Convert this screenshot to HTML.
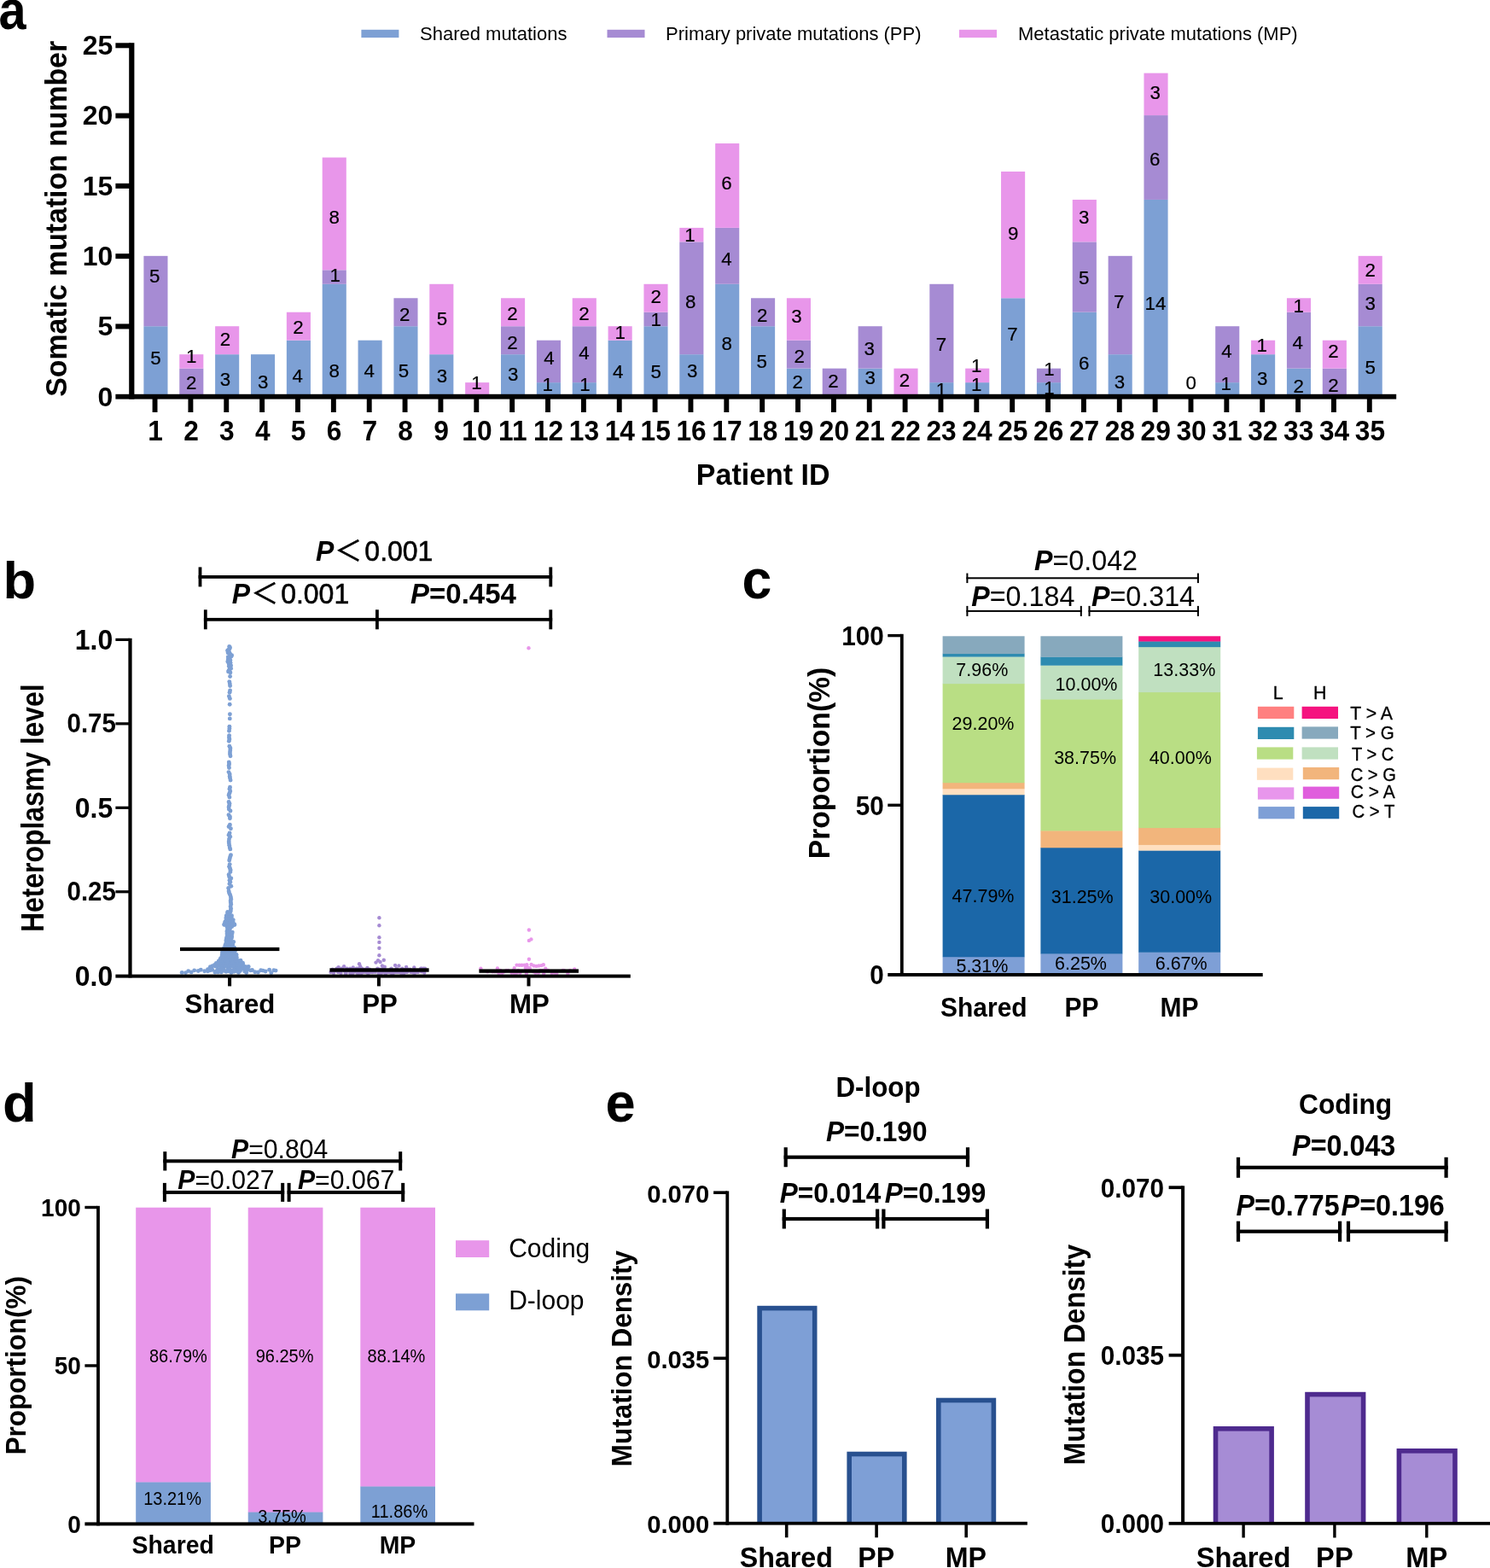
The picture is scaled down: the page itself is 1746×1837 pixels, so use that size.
<!DOCTYPE html>
<html lang="en"><head><meta charset="utf-8"><title>Figure</title>
<style>
html,body{margin:0;padding:0;background:#fff;}
body{width:1746px;height:1837px;overflow:hidden;}
svg{display:block;font-family:'Liberation Sans', sans-serif;fill:#000;}
svg rect{shape-rendering:auto;}
</style></head><body>
<svg width="1746" height="1837" viewBox="0 0 1746 1837">
<rect x="0" y="0" width="1746" height="1837" fill="#ffffff"/>
<text transform="translate(-1.40 33.70) scale(0.930 1.050)" font-size="62" font-weight="bold">a</text>
<rect x="423.40" y="34.80" width="44.00" height="9.30" fill="#7da0d4" />
<text x="492.00" y="47.40" font-size="22" >Shared mutations</text>
<rect x="711.50" y="34.80" width="44.00" height="9.30" fill="#a68bd3" />
<text x="780.00" y="47.40" font-size="22" >Primary private mutations (PP)</text>
<rect x="1124.00" y="34.80" width="44.00" height="9.30" fill="#e896ea" />
<text x="1193.00" y="47.40" font-size="22" >Metastatic private mutations (MP)</text>
<rect x="168.40" y="382.22" width="28.10" height="82.38" fill="#7da0d4" />
<rect x="168.40" y="299.84" width="28.10" height="82.38" fill="#a68bd3" />
<rect x="210.26" y="431.65" width="28.10" height="32.95" fill="#a68bd3" />
<rect x="210.26" y="415.17" width="28.10" height="16.48" fill="#e896ea" />
<rect x="252.12" y="415.17" width="28.10" height="49.43" fill="#7da0d4" />
<rect x="252.12" y="382.22" width="28.10" height="32.95" fill="#e896ea" />
<rect x="293.98" y="415.17" width="28.10" height="49.43" fill="#7da0d4" />
<rect x="335.84" y="398.70" width="28.10" height="65.90" fill="#7da0d4" />
<rect x="335.84" y="365.74" width="28.10" height="32.95" fill="#e896ea" />
<rect x="377.70" y="332.79" width="28.10" height="131.81" fill="#7da0d4" />
<rect x="377.70" y="316.32" width="28.10" height="16.48" fill="#a68bd3" />
<rect x="377.70" y="184.51" width="28.10" height="131.81" fill="#e896ea" />
<rect x="419.56" y="398.70" width="28.10" height="65.90" fill="#7da0d4" />
<rect x="461.42" y="382.22" width="28.10" height="82.38" fill="#7da0d4" />
<rect x="461.42" y="349.27" width="28.10" height="32.95" fill="#a68bd3" />
<rect x="503.28" y="415.17" width="28.10" height="49.43" fill="#7da0d4" />
<rect x="503.28" y="332.79" width="28.10" height="82.38" fill="#e896ea" />
<rect x="545.14" y="448.12" width="28.10" height="16.48" fill="#e896ea" />
<rect x="587.00" y="415.17" width="28.10" height="49.43" fill="#7da0d4" />
<rect x="587.00" y="382.22" width="28.10" height="32.95" fill="#a68bd3" />
<rect x="587.00" y="349.27" width="28.10" height="32.95" fill="#e896ea" />
<rect x="628.86" y="448.12" width="28.10" height="16.48" fill="#7da0d4" />
<rect x="628.86" y="398.70" width="28.10" height="49.43" fill="#a68bd3" />
<rect x="670.72" y="448.12" width="28.10" height="16.48" fill="#7da0d4" />
<rect x="670.72" y="382.22" width="28.10" height="65.90" fill="#a68bd3" />
<rect x="670.72" y="349.27" width="28.10" height="32.95" fill="#e896ea" />
<rect x="712.58" y="398.70" width="28.10" height="65.90" fill="#7da0d4" />
<rect x="712.58" y="382.22" width="28.10" height="16.48" fill="#e896ea" />
<rect x="754.44" y="382.22" width="28.10" height="82.38" fill="#7da0d4" />
<rect x="754.44" y="365.74" width="28.10" height="16.48" fill="#a68bd3" />
<rect x="754.44" y="332.79" width="28.10" height="32.95" fill="#e896ea" />
<rect x="796.30" y="415.17" width="28.10" height="49.43" fill="#7da0d4" />
<rect x="796.30" y="283.36" width="28.10" height="131.81" fill="#a68bd3" />
<rect x="796.30" y="266.89" width="28.10" height="16.48" fill="#e896ea" />
<rect x="838.16" y="332.79" width="28.10" height="131.81" fill="#7da0d4" />
<rect x="838.16" y="266.89" width="28.10" height="65.90" fill="#a68bd3" />
<rect x="838.16" y="168.03" width="28.10" height="98.86" fill="#e896ea" />
<rect x="880.02" y="382.22" width="28.10" height="82.38" fill="#7da0d4" />
<rect x="880.02" y="349.27" width="28.10" height="32.95" fill="#a68bd3" />
<rect x="921.88" y="431.65" width="28.10" height="32.95" fill="#7da0d4" />
<rect x="921.88" y="398.70" width="28.10" height="32.95" fill="#a68bd3" />
<rect x="921.88" y="349.27" width="28.10" height="49.43" fill="#e896ea" />
<rect x="963.74" y="431.65" width="28.10" height="32.95" fill="#a68bd3" />
<rect x="1005.60" y="431.65" width="28.10" height="32.95" fill="#7da0d4" />
<rect x="1005.60" y="382.22" width="28.10" height="49.43" fill="#a68bd3" />
<rect x="1047.46" y="431.65" width="28.10" height="32.95" fill="#e896ea" />
<rect x="1089.32" y="448.12" width="28.10" height="16.48" fill="#7da0d4" />
<rect x="1089.32" y="332.79" width="28.10" height="115.33" fill="#a68bd3" />
<rect x="1131.18" y="448.12" width="28.10" height="16.48" fill="#7da0d4" />
<rect x="1131.18" y="431.65" width="28.10" height="16.48" fill="#e896ea" />
<rect x="1173.04" y="349.27" width="28.10" height="115.33" fill="#7da0d4" />
<rect x="1173.04" y="200.98" width="28.10" height="148.28" fill="#e896ea" />
<rect x="1214.90" y="448.12" width="28.10" height="16.48" fill="#7da0d4" />
<rect x="1214.90" y="431.65" width="28.10" height="16.48" fill="#a68bd3" />
<rect x="1256.76" y="365.74" width="28.10" height="98.86" fill="#7da0d4" />
<rect x="1256.76" y="283.36" width="28.10" height="82.38" fill="#a68bd3" />
<rect x="1256.76" y="233.94" width="28.10" height="49.43" fill="#e896ea" />
<rect x="1298.62" y="415.17" width="28.10" height="49.43" fill="#7da0d4" />
<rect x="1298.62" y="299.84" width="28.10" height="115.33" fill="#a68bd3" />
<rect x="1340.48" y="233.94" width="28.10" height="230.66" fill="#7da0d4" />
<rect x="1340.48" y="135.08" width="28.10" height="98.86" fill="#a68bd3" />
<rect x="1340.48" y="85.65" width="28.10" height="49.43" fill="#e896ea" />
<rect x="1424.20" y="448.12" width="28.10" height="16.48" fill="#7da0d4" />
<rect x="1424.20" y="382.22" width="28.10" height="65.90" fill="#a68bd3" />
<rect x="1466.06" y="415.17" width="28.10" height="49.43" fill="#7da0d4" />
<rect x="1466.06" y="398.70" width="28.10" height="16.48" fill="#e896ea" />
<rect x="1507.92" y="431.65" width="28.10" height="32.95" fill="#7da0d4" />
<rect x="1507.92" y="365.74" width="28.10" height="65.90" fill="#a68bd3" />
<rect x="1507.92" y="349.27" width="28.10" height="16.48" fill="#e896ea" />
<rect x="1549.78" y="431.65" width="28.10" height="32.95" fill="#a68bd3" />
<rect x="1549.78" y="398.70" width="28.10" height="32.95" fill="#e896ea" />
<rect x="1591.64" y="382.22" width="28.10" height="82.38" fill="#7da0d4" />
<rect x="1591.64" y="332.79" width="28.10" height="49.43" fill="#a68bd3" />
<rect x="1591.64" y="299.84" width="28.10" height="32.95" fill="#e896ea" />
<g font-size="22.3" text-anchor="middle" stroke="#000" stroke-width="0.2">
<text x="181.1" y="330.9">5</text>
<text x="182.5" y="427.1">5</text>
<text x="224.1" y="425.4">1</text>
<text x="224.1" y="456.3">2</text>
<text x="263.9" y="405.4">2</text>
<text x="263.9" y="451.5">3</text>
<text x="308.2" y="454.6">3</text>
<text x="349.5" y="391.0">2</text>
<text x="348.8" y="448.4">4</text>
<text x="392.8" y="330.2">1</text>
<text x="391.8" y="441.9">8</text>
<text x="432.6" y="441.9">4</text>
<text x="474.2" y="375.9">2</text>
<text x="472.9" y="441.9">5</text>
<text x="517.9" y="381.4">5</text>
<text x="517.9" y="447.7">3</text>
<text x="558.4" y="456.3">1</text>
<text x="391.8" y="261.8">8</text>
<text x="600.5" y="374.5">2</text>
<text x="600.5" y="409.2">2</text>
<text x="601.2" y="446.0">3</text>
<text x="643.5" y="427.1">4</text>
<text x="641.8" y="458.0">1</text>
<text x="684.4" y="374.8">2</text>
<text x="684.4" y="421.2">4</text>
<text x="685.4" y="458.0">1</text>
<text x="726.7" y="397.2">1</text>
<text x="724.3" y="442.5">4</text>
<text x="768.6" y="354.9">2</text>
<text x="768.6" y="382.4">1</text>
<text x="768.6" y="442.5">5</text>
<text x="809.1" y="360.8">8</text>
<text x="811.2" y="441.9">3</text>
<text x="851.4" y="310.9">4</text>
<text x="851.8" y="409.9">8</text>
<text x="893.3" y="376.6">2</text>
<text x="892.6" y="430.5">5</text>
<text x="933.5" y="377.9">3</text>
<text x="936.6" y="424.7">2</text>
<text x="934.6" y="454.6">2</text>
<text x="976.5" y="453.9">2</text>
<text x="1018.8" y="415.7">3</text>
<text x="1019.8" y="450.4">3</text>
<text x="1060.0" y="452.8">2</text>
<text x="1103.0" y="410.6">7</text>
<text x="1103.0" y="464.2">1</text>
<text x="1144.2" y="435.7">1</text>
<text x="1144.2" y="458.0">1</text>
<text x="808.5" y="282.7">1</text>
<text x="851.4" y="222.3">6</text>
<text x="1186.5" y="398.6">7</text>
<text x="1229.5" y="440.1">1</text>
<text x="1229.5" y="462.1">1</text>
<text x="1270.1" y="333.3">5</text>
<text x="1270.1" y="432.9">6</text>
<text x="1311.3" y="361.1">7</text>
<text x="1312.0" y="455.3">3</text>
<text x="1353.9" y="362.5">14</text>
<text x="1395.8" y="455.6">0</text>
<text x="1437.4" y="419.2">4</text>
<text x="1436.7" y="457.3">1</text>
<text x="1478.6" y="411.6">1</text>
<text x="1479.3" y="451.1">3</text>
<text x="1521.6" y="365.9">1</text>
<text x="1520.6" y="409.2">4</text>
<text x="1521.6" y="459.7">2</text>
<text x="1562.5" y="418.5">2</text>
<text x="1562.5" y="458.7">2</text>
<text x="1605.8" y="324.0">2</text>
<text x="1605.8" y="362.8">3</text>
<text x="1605.8" y="438.1">5</text>
<text x="1187.2" y="280.7">9</text>
<text x="1270.1" y="261.8">3</text>
<text x="1353.2" y="194.1">6</text>
<text x="1353.6" y="116.1">3</text>
</g>
<rect x="151.20" y="50.20" width="6.20" height="417.40" fill="#000" />
<rect x="135.40" y="461.80" width="1500.80" height="5.80" fill="#000" />
<text x="132.30" y="475.60" font-size="32" font-weight="bold" text-anchor="end" >0</text>
<rect x="135.40" y="379.42" width="17.60" height="6.00" fill="#000" />
<text x="132.30" y="393.32" font-size="32" font-weight="bold" text-anchor="end" >5</text>
<rect x="135.40" y="297.14" width="17.60" height="6.00" fill="#000" />
<text x="132.30" y="311.04" font-size="32" font-weight="bold" text-anchor="end" >10</text>
<rect x="135.40" y="214.86" width="17.60" height="6.00" fill="#000" />
<text x="132.30" y="228.76" font-size="32" font-weight="bold" text-anchor="end" >15</text>
<rect x="135.40" y="132.58" width="17.60" height="6.00" fill="#000" />
<text x="132.30" y="146.48" font-size="32" font-weight="bold" text-anchor="end" >20</text>
<rect x="135.40" y="50.30" width="17.60" height="6.00" fill="#000" />
<text x="132.30" y="64.20" font-size="32" font-weight="bold" text-anchor="end" >25</text>
<rect x="178.60" y="466.00" width="5.90" height="17.00" fill="#000" />
<text transform="translate(182.15 516.30) scale(1 1.035)" font-size="31.7" font-weight="bold" text-anchor="middle" >1</text>
<rect x="220.46" y="466.00" width="5.90" height="17.00" fill="#000" />
<text transform="translate(224.01 516.30) scale(1 1.035)" font-size="31.7" font-weight="bold" text-anchor="middle" >2</text>
<rect x="262.32" y="466.00" width="5.90" height="17.00" fill="#000" />
<text transform="translate(265.87 516.30) scale(1 1.035)" font-size="31.7" font-weight="bold" text-anchor="middle" >3</text>
<rect x="304.18" y="466.00" width="5.90" height="17.00" fill="#000" />
<text transform="translate(307.73 516.30) scale(1 1.035)" font-size="31.7" font-weight="bold" text-anchor="middle" >4</text>
<rect x="346.04" y="466.00" width="5.90" height="17.00" fill="#000" />
<text transform="translate(349.59 516.30) scale(1 1.035)" font-size="31.7" font-weight="bold" text-anchor="middle" >5</text>
<rect x="387.90" y="466.00" width="5.90" height="17.00" fill="#000" />
<text transform="translate(391.45 516.30) scale(1 1.035)" font-size="31.7" font-weight="bold" text-anchor="middle" >6</text>
<rect x="429.76" y="466.00" width="5.90" height="17.00" fill="#000" />
<text transform="translate(433.31 516.30) scale(1 1.035)" font-size="31.7" font-weight="bold" text-anchor="middle" >7</text>
<rect x="471.62" y="466.00" width="5.90" height="17.00" fill="#000" />
<text transform="translate(475.17 516.30) scale(1 1.035)" font-size="31.7" font-weight="bold" text-anchor="middle" >8</text>
<rect x="513.48" y="466.00" width="5.90" height="17.00" fill="#000" />
<text transform="translate(517.03 516.30) scale(1 1.035)" font-size="31.7" font-weight="bold" text-anchor="middle" >9</text>
<rect x="555.34" y="466.00" width="5.90" height="17.00" fill="#000" />
<text transform="translate(558.89 516.30) scale(1 1.035)" font-size="31.7" font-weight="bold" text-anchor="middle" >10</text>
<rect x="597.20" y="466.00" width="5.90" height="17.00" fill="#000" />
<text transform="translate(600.75 516.30) scale(1 1.035)" font-size="31.7" font-weight="bold" text-anchor="middle" >11</text>
<rect x="639.06" y="466.00" width="5.90" height="17.00" fill="#000" />
<text transform="translate(642.61 516.30) scale(1 1.035)" font-size="31.7" font-weight="bold" text-anchor="middle" >12</text>
<rect x="680.92" y="466.00" width="5.90" height="17.00" fill="#000" />
<text transform="translate(684.47 516.30) scale(1 1.035)" font-size="31.7" font-weight="bold" text-anchor="middle" >13</text>
<rect x="722.78" y="466.00" width="5.90" height="17.00" fill="#000" />
<text transform="translate(726.33 516.30) scale(1 1.035)" font-size="31.7" font-weight="bold" text-anchor="middle" >14</text>
<rect x="764.64" y="466.00" width="5.90" height="17.00" fill="#000" />
<text transform="translate(768.19 516.30) scale(1 1.035)" font-size="31.7" font-weight="bold" text-anchor="middle" >15</text>
<rect x="806.50" y="466.00" width="5.90" height="17.00" fill="#000" />
<text transform="translate(810.05 516.30) scale(1 1.035)" font-size="31.7" font-weight="bold" text-anchor="middle" >16</text>
<rect x="848.36" y="466.00" width="5.90" height="17.00" fill="#000" />
<text transform="translate(851.91 516.30) scale(1 1.035)" font-size="31.7" font-weight="bold" text-anchor="middle" >17</text>
<rect x="890.22" y="466.00" width="5.90" height="17.00" fill="#000" />
<text transform="translate(893.77 516.30) scale(1 1.035)" font-size="31.7" font-weight="bold" text-anchor="middle" >18</text>
<rect x="932.08" y="466.00" width="5.90" height="17.00" fill="#000" />
<text transform="translate(935.63 516.30) scale(1 1.035)" font-size="31.7" font-weight="bold" text-anchor="middle" >19</text>
<rect x="973.94" y="466.00" width="5.90" height="17.00" fill="#000" />
<text transform="translate(977.49 516.30) scale(1 1.035)" font-size="31.7" font-weight="bold" text-anchor="middle" >20</text>
<rect x="1015.80" y="466.00" width="5.90" height="17.00" fill="#000" />
<text transform="translate(1019.35 516.30) scale(1 1.035)" font-size="31.7" font-weight="bold" text-anchor="middle" >21</text>
<rect x="1057.66" y="466.00" width="5.90" height="17.00" fill="#000" />
<text transform="translate(1061.21 516.30) scale(1 1.035)" font-size="31.7" font-weight="bold" text-anchor="middle" >22</text>
<rect x="1099.52" y="466.00" width="5.90" height="17.00" fill="#000" />
<text transform="translate(1103.07 516.30) scale(1 1.035)" font-size="31.7" font-weight="bold" text-anchor="middle" >23</text>
<rect x="1141.38" y="466.00" width="5.90" height="17.00" fill="#000" />
<text transform="translate(1144.93 516.30) scale(1 1.035)" font-size="31.7" font-weight="bold" text-anchor="middle" >24</text>
<rect x="1183.24" y="466.00" width="5.90" height="17.00" fill="#000" />
<text transform="translate(1186.79 516.30) scale(1 1.035)" font-size="31.7" font-weight="bold" text-anchor="middle" >25</text>
<rect x="1225.10" y="466.00" width="5.90" height="17.00" fill="#000" />
<text transform="translate(1228.65 516.30) scale(1 1.035)" font-size="31.7" font-weight="bold" text-anchor="middle" >26</text>
<rect x="1266.96" y="466.00" width="5.90" height="17.00" fill="#000" />
<text transform="translate(1270.51 516.30) scale(1 1.035)" font-size="31.7" font-weight="bold" text-anchor="middle" >27</text>
<rect x="1308.82" y="466.00" width="5.90" height="17.00" fill="#000" />
<text transform="translate(1312.37 516.30) scale(1 1.035)" font-size="31.7" font-weight="bold" text-anchor="middle" >28</text>
<rect x="1350.68" y="466.00" width="5.90" height="17.00" fill="#000" />
<text transform="translate(1354.23 516.30) scale(1 1.035)" font-size="31.7" font-weight="bold" text-anchor="middle" >29</text>
<rect x="1392.54" y="466.00" width="5.90" height="17.00" fill="#000" />
<text transform="translate(1396.09 516.30) scale(1 1.035)" font-size="31.7" font-weight="bold" text-anchor="middle" >30</text>
<rect x="1434.40" y="466.00" width="5.90" height="17.00" fill="#000" />
<text transform="translate(1437.95 516.30) scale(1 1.035)" font-size="31.7" font-weight="bold" text-anchor="middle" >31</text>
<rect x="1476.26" y="466.00" width="5.90" height="17.00" fill="#000" />
<text transform="translate(1479.81 516.30) scale(1 1.035)" font-size="31.7" font-weight="bold" text-anchor="middle" >32</text>
<rect x="1518.12" y="466.00" width="5.90" height="17.00" fill="#000" />
<text transform="translate(1521.67 516.30) scale(1 1.035)" font-size="31.7" font-weight="bold" text-anchor="middle" >33</text>
<rect x="1559.98" y="466.00" width="5.90" height="17.00" fill="#000" />
<text transform="translate(1563.53 516.30) scale(1 1.035)" font-size="31.7" font-weight="bold" text-anchor="middle" >34</text>
<rect x="1601.84" y="466.00" width="5.90" height="17.00" fill="#000" />
<text transform="translate(1605.39 516.30) scale(1 1.035)" font-size="31.7" font-weight="bold" text-anchor="middle" >35</text>
<text transform="translate(77.50 256.30) rotate(-90) scale(1 1.050)" font-size="33.8" font-weight="bold" text-anchor="middle">Somatic mutation number</text>
<text transform="translate(894.20 567.80) scale(1 1.030)" font-size="34" font-weight="bold" text-anchor="middle" >Patient ID</text>
<text transform="translate(3.40 700.60) scale(1.020 1.000)" font-size="62" font-weight="bold">b</text>
<g fill="#7da0d4">
<circle cx="268.7" cy="757.5" r="2.45"/>
<circle cx="269.4" cy="758.4" r="2.45"/>
<circle cx="269.2" cy="759.7" r="2.45"/>
<circle cx="268.2" cy="760.9" r="2.45"/>
<circle cx="266.7" cy="761.9" r="2.45"/>
<circle cx="266.9" cy="762.6" r="2.45"/>
<circle cx="268.7" cy="764.3" r="2.45"/>
<circle cx="267.1" cy="764.8" r="2.45"/>
<circle cx="269.8" cy="766.5" r="2.45"/>
<circle cx="269.5" cy="767.0" r="2.45"/>
<circle cx="271.6" cy="767.7" r="2.45"/>
<circle cx="271.0" cy="769.0" r="2.45"/>
<circle cx="267.3" cy="769.8" r="2.45"/>
<circle cx="268.1" cy="771.6" r="2.45"/>
<circle cx="267.4" cy="772.4" r="2.45"/>
<circle cx="269.8" cy="773.2" r="2.45"/>
<circle cx="269.3" cy="773.9" r="2.45"/>
<circle cx="266.8" cy="775.1" r="2.45"/>
<circle cx="270.0" cy="776.3" r="2.45"/>
<circle cx="268.1" cy="777.5" r="2.45"/>
<circle cx="268.9" cy="778.3" r="2.45"/>
<circle cx="270.6" cy="779.7" r="2.45"/>
<circle cx="268.3" cy="780.6" r="2.45"/>
<circle cx="269.2" cy="782.0" r="2.45"/>
<circle cx="269.8" cy="782.4" r="2.45"/>
<circle cx="270.6" cy="783.3" r="2.45"/>
<circle cx="268.8" cy="785.0" r="2.45"/>
<circle cx="268.0" cy="785.7" r="2.45"/>
<circle cx="267.6" cy="786.9" r="2.45"/>
<circle cx="269.9" cy="787.9" r="2.45"/>
<circle cx="269.6" cy="792.5" r="2.45"/>
<circle cx="268.8" cy="798.6" r="2.45"/>
<circle cx="269.3" cy="800.9" r="2.45"/>
<circle cx="269.6" cy="803.5" r="2.45"/>
<circle cx="269.6" cy="808.9" r="2.45"/>
<circle cx="269.1" cy="811.2" r="2.45"/>
<circle cx="268.4" cy="815.8" r="2.45"/>
<circle cx="269.4" cy="818.4" r="2.45"/>
<circle cx="269.2" cy="825.3" r="2.45"/>
<circle cx="269.4" cy="836.8" r="2.45"/>
<circle cx="269.3" cy="841.9" r="2.45"/>
<circle cx="268.9" cy="851.3" r="2.45"/>
<circle cx="268.9" cy="853.6" r="2.45"/>
<circle cx="268.5" cy="856.2" r="2.45"/>
<circle cx="268.6" cy="861.6" r="2.45"/>
<circle cx="268.4" cy="863.9" r="2.45"/>
<circle cx="268.9" cy="865.9" r="2.45"/>
<circle cx="268.3" cy="868.2" r="2.45"/>
<circle cx="268.9" cy="874.2" r="2.45"/>
<circle cx="269.9" cy="876.5" r="2.45"/>
<circle cx="269.8" cy="878.8" r="2.45"/>
<circle cx="269.5" cy="881.1" r="2.45"/>
<circle cx="269.5" cy="883.4" r="2.45"/>
<circle cx="270.0" cy="885.7" r="2.45"/>
<circle cx="268.3" cy="893.0" r="2.45"/>
<circle cx="268.6" cy="895.0" r="2.45"/>
<circle cx="268.1" cy="897.0" r="2.45"/>
<circle cx="268.5" cy="899.6" r="2.45"/>
<circle cx="268.0" cy="904.6" r="2.45"/>
<circle cx="269.2" cy="906.9" r="2.45"/>
<circle cx="269.2" cy="909.5" r="2.45"/>
<circle cx="269.5" cy="911.5" r="2.45"/>
<circle cx="270.1" cy="914.1" r="2.45"/>
<circle cx="269.5" cy="922.3" r="2.45"/>
<circle cx="269.0" cy="924.3" r="2.45"/>
<circle cx="269.8" cy="926.9" r="2.45"/>
<circle cx="268.9" cy="929.2" r="2.45"/>
<circle cx="268.1" cy="931.5" r="2.45"/>
<circle cx="268.9" cy="934.1" r="2.45"/>
<circle cx="268.1" cy="939.5" r="2.45"/>
<circle cx="269.0" cy="941.5" r="2.45"/>
<circle cx="268.7" cy="943.5" r="2.45"/>
<circle cx="268.1" cy="945.5" r="2.45"/>
<circle cx="268.3" cy="948.1" r="2.45"/>
<circle cx="270.0" cy="950.0" r="2.45"/>
<circle cx="268.0" cy="954.8" r="2.45"/>
<circle cx="269.4" cy="956.8" r="2.45"/>
<circle cx="269.4" cy="958.8" r="2.45"/>
<circle cx="269.4" cy="966.2" r="2.45"/>
<circle cx="268.1" cy="968.5" r="2.45"/>
<circle cx="270.4" cy="970.8" r="2.45"/>
<circle cx="269.1" cy="976.0" r="2.45"/>
<circle cx="268.1" cy="978.3" r="2.45"/>
<circle cx="269.7" cy="980.3" r="2.45"/>
<circle cx="268.5" cy="982.9" r="2.45"/>
<circle cx="268.2" cy="985.7" r="2.45"/>
<circle cx="268.3" cy="987.7" r="2.45"/>
<circle cx="268.7" cy="990.3" r="2.45"/>
<circle cx="269.2" cy="992.9" r="2.45"/>
<circle cx="269.8" cy="994.9" r="2.45"/>
<circle cx="270.5" cy="1001.7" r="2.45"/>
<circle cx="269.7" cy="1003.7" r="2.45"/>
<circle cx="269.2" cy="1006.0" r="2.45"/>
<circle cx="268.7" cy="1008.0" r="2.45"/>
<circle cx="269.2" cy="1012.6" r="2.45"/>
<circle cx="268.6" cy="1015.2" r="2.45"/>
<circle cx="269.5" cy="1017.2" r="2.45"/>
<circle cx="270.1" cy="1019.2" r="2.45"/>
<circle cx="269.9" cy="1021.5" r="2.45"/>
<circle cx="268.1" cy="1024.7" r="2.45"/>
<circle cx="268.6" cy="1027.0" r="2.45"/>
<circle cx="270.8" cy="1029.0" r="2.45"/>
<circle cx="269.0" cy="1031.3" r="2.45"/>
<circle cx="269.8" cy="1033.3" r="2.45"/>
<circle cx="268.9" cy="1035.6" r="2.45"/>
<circle cx="270.8" cy="1038.2" r="2.45"/>
<circle cx="267.7" cy="1040.5" r="2.45"/>
<circle cx="268.1" cy="1044.0" r="2.45"/>
<circle cx="268.5" cy="1046.0" r="2.45"/>
<circle cx="269.6" cy="1048.3" r="2.45"/>
<circle cx="270.4" cy="1050.9" r="2.45"/>
<circle cx="270.7" cy="1053.2" r="2.45"/>
<circle cx="270.2" cy="1055.5" r="2.45"/>
<circle cx="270.4" cy="1057.5" r="2.45"/>
<circle cx="270.7" cy="1059.5" r="2.45"/>
<circle cx="270.1" cy="1062.1" r="2.45"/>
<circle cx="270.6" cy="1064.4" r="2.45"/>
<circle cx="270.2" cy="1066.7" r="2.45"/>
<circle cx="266.7" cy="1068.4" r="2.45"/>
<circle cx="270.1" cy="1068.0" r="2.45"/>
<circle cx="266.7" cy="1069.9" r="2.45"/>
<circle cx="268.9" cy="1070.8" r="2.45"/>
<circle cx="265.3" cy="1072.7" r="2.45"/>
<circle cx="268.6" cy="1072.8" r="2.45"/>
<circle cx="271.5" cy="1072.7" r="2.45"/>
<circle cx="265.1" cy="1075.3" r="2.45"/>
<circle cx="267.6" cy="1074.9" r="2.45"/>
<circle cx="270.2" cy="1075.2" r="2.45"/>
<circle cx="265.3" cy="1074.6" r="2.45"/>
<circle cx="268.1" cy="1074.6" r="2.45"/>
<circle cx="271.2" cy="1074.7" r="2.45"/>
<circle cx="265.1" cy="1076.8" r="2.45"/>
<circle cx="267.2" cy="1077.3" r="2.45"/>
<circle cx="270.6" cy="1077.1" r="2.45"/>
<circle cx="273.2" cy="1077.6" r="2.45"/>
<circle cx="263.9" cy="1079.8" r="2.45"/>
<circle cx="267.5" cy="1079.8" r="2.45"/>
<circle cx="270.2" cy="1079.6" r="2.45"/>
<circle cx="273.1" cy="1080.0" r="2.45"/>
<circle cx="263.7" cy="1080.7" r="2.45"/>
<circle cx="266.9" cy="1081.4" r="2.45"/>
<circle cx="270.0" cy="1081.1" r="2.45"/>
<circle cx="272.8" cy="1080.6" r="2.45"/>
<circle cx="262.8" cy="1083.4" r="2.45"/>
<circle cx="265.6" cy="1082.9" r="2.45"/>
<circle cx="269.0" cy="1083.3" r="2.45"/>
<circle cx="271.6" cy="1083.6" r="2.45"/>
<circle cx="274.8" cy="1082.9" r="2.45"/>
<circle cx="262.8" cy="1083.0" r="2.45"/>
<circle cx="265.5" cy="1083.5" r="2.45"/>
<circle cx="268.2" cy="1083.9" r="2.45"/>
<circle cx="271.1" cy="1083.3" r="2.45"/>
<circle cx="274.8" cy="1083.6" r="2.45"/>
<circle cx="265.9" cy="1085.6" r="2.45"/>
<circle cx="269.0" cy="1086.1" r="2.45"/>
<circle cx="271.8" cy="1085.5" r="2.45"/>
<circle cx="266.5" cy="1086.4" r="2.45"/>
<circle cx="269.7" cy="1086.4" r="2.45"/>
<circle cx="266.8" cy="1088.0" r="2.45"/>
<circle cx="269.2" cy="1088.2" r="2.45"/>
<circle cx="266.2" cy="1090.4" r="2.45"/>
<circle cx="269.3" cy="1090.5" r="2.45"/>
<circle cx="266.0" cy="1091.8" r="2.45"/>
<circle cx="268.7" cy="1092.3" r="2.45"/>
<circle cx="272.3" cy="1092.1" r="2.45"/>
<circle cx="266.0" cy="1094.1" r="2.45"/>
<circle cx="268.5" cy="1094.3" r="2.45"/>
<circle cx="271.9" cy="1093.9" r="2.45"/>
<circle cx="266.3" cy="1096.3" r="2.45"/>
<circle cx="268.9" cy="1096.3" r="2.45"/>
<circle cx="271.7" cy="1097.1" r="2.45"/>
<circle cx="265.6" cy="1098.8" r="2.45"/>
<circle cx="268.4" cy="1098.5" r="2.45"/>
<circle cx="271.2" cy="1098.7" r="2.45"/>
<circle cx="265.7" cy="1099.2" r="2.45"/>
<circle cx="268.4" cy="1099.0" r="2.45"/>
<circle cx="271.1" cy="1099.5" r="2.45"/>
<circle cx="264.9" cy="1101.7" r="2.45"/>
<circle cx="267.8" cy="1101.7" r="2.45"/>
<circle cx="270.5" cy="1101.1" r="2.45"/>
<circle cx="265.3" cy="1103.3" r="2.45"/>
<circle cx="267.9" cy="1103.9" r="2.45"/>
<circle cx="270.8" cy="1103.8" r="2.45"/>
<circle cx="273.7" cy="1103.5" r="2.45"/>
<circle cx="264.5" cy="1105.9" r="2.45"/>
<circle cx="267.3" cy="1105.7" r="2.45"/>
<circle cx="269.9" cy="1106.2" r="2.45"/>
<circle cx="272.6" cy="1106.3" r="2.45"/>
<circle cx="263.9" cy="1107.5" r="2.45"/>
<circle cx="266.5" cy="1107.8" r="2.45"/>
<circle cx="269.8" cy="1107.7" r="2.45"/>
<circle cx="272.3" cy="1107.6" r="2.45"/>
<circle cx="262.5" cy="1110.8" r="2.45"/>
<circle cx="265.7" cy="1110.7" r="2.45"/>
<circle cx="268.7" cy="1109.8" r="2.45"/>
<circle cx="271.6" cy="1110.7" r="2.45"/>
<circle cx="274.6" cy="1110.1" r="2.45"/>
<circle cx="261.5" cy="1113.0" r="2.45"/>
<circle cx="264.7" cy="1112.6" r="2.45"/>
<circle cx="267.1" cy="1112.5" r="2.45"/>
<circle cx="270.4" cy="1112.4" r="2.45"/>
<circle cx="273.3" cy="1113.1" r="2.45"/>
<circle cx="275.3" cy="1112.1" r="2.45"/>
<circle cx="261.1" cy="1114.5" r="2.45"/>
<circle cx="263.9" cy="1113.7" r="2.45"/>
<circle cx="266.6" cy="1114.2" r="2.45"/>
<circle cx="269.7" cy="1114.2" r="2.45"/>
<circle cx="272.3" cy="1114.4" r="2.45"/>
<circle cx="275.6" cy="1113.8" r="2.45"/>
<circle cx="260.5" cy="1116.0" r="2.45"/>
<circle cx="263.3" cy="1116.7" r="2.45"/>
<circle cx="266.6" cy="1115.9" r="2.45"/>
<circle cx="269.7" cy="1116.8" r="2.45"/>
<circle cx="272.3" cy="1115.8" r="2.45"/>
<circle cx="274.9" cy="1116.7" r="2.45"/>
<circle cx="260.4" cy="1118.2" r="2.45"/>
<circle cx="263.4" cy="1118.5" r="2.45"/>
<circle cx="266.0" cy="1119.1" r="2.45"/>
<circle cx="268.9" cy="1118.8" r="2.45"/>
<circle cx="271.2" cy="1118.3" r="2.45"/>
<circle cx="274.2" cy="1118.1" r="2.45"/>
<circle cx="277.1" cy="1118.4" r="2.45"/>
<circle cx="260.6" cy="1120.7" r="2.45"/>
<circle cx="262.4" cy="1121.3" r="2.45"/>
<circle cx="265.4" cy="1120.6" r="2.45"/>
<circle cx="268.3" cy="1120.5" r="2.45"/>
<circle cx="271.1" cy="1121.1" r="2.45"/>
<circle cx="273.9" cy="1121.2" r="2.45"/>
<circle cx="276.5" cy="1121.2" r="2.45"/>
<circle cx="259.7" cy="1121.1" r="2.45"/>
<circle cx="262.8" cy="1120.8" r="2.45"/>
<circle cx="265.8" cy="1120.6" r="2.45"/>
<circle cx="269.0" cy="1121.4" r="2.45"/>
<circle cx="271.0" cy="1121.4" r="2.45"/>
<circle cx="274.4" cy="1121.1" r="2.45"/>
<circle cx="277.2" cy="1121.2" r="2.45"/>
<circle cx="258.3" cy="1123.1" r="2.45"/>
<circle cx="261.2" cy="1122.9" r="2.45"/>
<circle cx="264.2" cy="1123.5" r="2.45"/>
<circle cx="266.7" cy="1123.2" r="2.45"/>
<circle cx="269.7" cy="1123.3" r="2.45"/>
<circle cx="272.7" cy="1123.6" r="2.45"/>
<circle cx="275.1" cy="1123.6" r="2.45"/>
<circle cx="277.4" cy="1123.5" r="2.45"/>
<circle cx="256.7" cy="1125.8" r="2.45"/>
<circle cx="259.7" cy="1125.7" r="2.45"/>
<circle cx="261.6" cy="1125.1" r="2.45"/>
<circle cx="265.0" cy="1126.1" r="2.45"/>
<circle cx="267.5" cy="1125.6" r="2.45"/>
<circle cx="270.0" cy="1125.1" r="2.45"/>
<circle cx="273.3" cy="1125.3" r="2.45"/>
<circle cx="275.8" cy="1125.6" r="2.45"/>
<circle cx="278.4" cy="1126.0" r="2.45"/>
<circle cx="282.0" cy="1125.2" r="2.45"/>
<circle cx="256.1" cy="1126.2" r="2.45"/>
<circle cx="258.9" cy="1126.3" r="2.45"/>
<circle cx="262.0" cy="1125.7" r="2.45"/>
<circle cx="264.8" cy="1125.7" r="2.45"/>
<circle cx="267.4" cy="1126.0" r="2.45"/>
<circle cx="270.4" cy="1125.6" r="2.45"/>
<circle cx="273.3" cy="1125.8" r="2.45"/>
<circle cx="275.2" cy="1126.1" r="2.45"/>
<circle cx="278.2" cy="1126.1" r="2.45"/>
<circle cx="281.1" cy="1126.2" r="2.45"/>
<circle cx="253.4" cy="1128.4" r="2.45"/>
<circle cx="255.7" cy="1128.3" r="2.45"/>
<circle cx="258.8" cy="1128.8" r="2.45"/>
<circle cx="261.2" cy="1128.0" r="2.45"/>
<circle cx="264.4" cy="1128.5" r="2.45"/>
<circle cx="267.0" cy="1128.3" r="2.45"/>
<circle cx="270.3" cy="1128.8" r="2.45"/>
<circle cx="272.9" cy="1128.1" r="2.45"/>
<circle cx="275.2" cy="1128.3" r="2.45"/>
<circle cx="278.2" cy="1127.9" r="2.45"/>
<circle cx="281.2" cy="1128.8" r="2.45"/>
<circle cx="284.5" cy="1128.2" r="2.45"/>
<circle cx="251.5" cy="1130.4" r="2.45"/>
<circle cx="253.5" cy="1129.6" r="2.45"/>
<circle cx="256.9" cy="1129.8" r="2.45"/>
<circle cx="259.4" cy="1130.1" r="2.45"/>
<circle cx="262.4" cy="1129.8" r="2.45"/>
<circle cx="264.7" cy="1129.9" r="2.45"/>
<circle cx="267.9" cy="1130.4" r="2.45"/>
<circle cx="270.6" cy="1129.7" r="2.45"/>
<circle cx="273.9" cy="1130.2" r="2.45"/>
<circle cx="276.2" cy="1130.2" r="2.45"/>
<circle cx="279.0" cy="1129.9" r="2.45"/>
<circle cx="281.5" cy="1129.8" r="2.45"/>
<circle cx="284.5" cy="1129.8" r="2.45"/>
<circle cx="246.4" cy="1132.7" r="2.45"/>
<circle cx="249.0" cy="1131.8" r="2.45"/>
<circle cx="252.3" cy="1132.1" r="2.45"/>
<circle cx="254.5" cy="1132.2" r="2.45"/>
<circle cx="258.1" cy="1131.9" r="2.45"/>
<circle cx="260.9" cy="1132.6" r="2.45"/>
<circle cx="263.7" cy="1132.1" r="2.45"/>
<circle cx="265.7" cy="1132.5" r="2.45"/>
<circle cx="269.0" cy="1131.9" r="2.45"/>
<circle cx="272.2" cy="1132.2" r="2.45"/>
<circle cx="274.3" cy="1132.6" r="2.45"/>
<circle cx="277.6" cy="1132.2" r="2.45"/>
<circle cx="279.6" cy="1132.6" r="2.45"/>
<circle cx="282.8" cy="1132.7" r="2.45"/>
<circle cx="285.8" cy="1132.0" r="2.45"/>
<circle cx="288.1" cy="1132.7" r="2.45"/>
<circle cx="291.2" cy="1132.4" r="2.45"/>
<circle cx="213.2" cy="1139.4" r="2.45"/>
<circle cx="217.5" cy="1139.6" r="2.45"/>
<circle cx="220.7" cy="1137.6" r="2.45"/>
<circle cx="224.2" cy="1138.9" r="2.45"/>
<circle cx="227.7" cy="1136.9" r="2.45"/>
<circle cx="232.3" cy="1137.5" r="2.45"/>
<circle cx="235.3" cy="1136.2" r="2.45"/>
<circle cx="239.7" cy="1137.7" r="2.45"/>
<circle cx="243.5" cy="1137.7" r="2.45"/>
<circle cx="246.0" cy="1136.9" r="2.45"/>
<circle cx="248.8" cy="1136.3" r="2.45"/>
<circle cx="251.9" cy="1139.1" r="2.45"/>
<circle cx="255.4" cy="1138.9" r="2.45"/>
<circle cx="259.3" cy="1138.9" r="2.45"/>
<circle cx="262.3" cy="1137.3" r="2.45"/>
<circle cx="265.0" cy="1138.2" r="2.45"/>
<circle cx="268.0" cy="1137.9" r="2.45"/>
<circle cx="271.0" cy="1139.5" r="2.45"/>
<circle cx="275.7" cy="1137.7" r="2.45"/>
<circle cx="279.5" cy="1139.4" r="2.45"/>
<circle cx="281.4" cy="1137.6" r="2.45"/>
<circle cx="286.7" cy="1137.9" r="2.45"/>
<circle cx="288.7" cy="1139.6" r="2.45"/>
<circle cx="293.7" cy="1136.9" r="2.45"/>
<circle cx="295.5" cy="1136.5" r="2.45"/>
<circle cx="298.8" cy="1138.8" r="2.45"/>
<circle cx="302.4" cy="1139.0" r="2.45"/>
<circle cx="305.7" cy="1136.8" r="2.45"/>
<circle cx="308.1" cy="1137.1" r="2.45"/>
<circle cx="311.1" cy="1138.0" r="2.45"/>
<circle cx="315.6" cy="1136.3" r="2.45"/>
<circle cx="317.8" cy="1139.7" r="2.45"/>
<circle cx="320.9" cy="1136.8" r="2.45"/>
<circle cx="323.1" cy="1137.1" r="2.45"/>
<circle cx="257.6" cy="1135.8" r="2.45"/>
<circle cx="286.7" cy="1135.5" r="2.45"/>
<circle cx="270.5" cy="1136.7" r="2.45"/>
<circle cx="244.6" cy="1136.1" r="2.45"/>
<circle cx="276.9" cy="1134.7" r="2.45"/>
<circle cx="253.2" cy="1138.0" r="2.45"/>
<circle cx="276.8" cy="1134.8" r="2.45"/>
<circle cx="254.9" cy="1136.2" r="2.45"/>
<circle cx="262.4" cy="1136.5" r="2.45"/>
<circle cx="279.3" cy="1137.4" r="2.45"/>
<circle cx="261.9" cy="1136.1" r="2.45"/>
<circle cx="243.5" cy="1135.7" r="2.45"/>
<circle cx="287.0" cy="1134.8" r="2.45"/>
<circle cx="268.9" cy="1135.3" r="2.45"/>
<circle cx="282.9" cy="1135.3" r="2.45"/>
<circle cx="267.3" cy="1135.6" r="2.45"/>
<circle cx="289.3" cy="1134.9" r="2.45"/>
<circle cx="275.5" cy="1136.9" r="2.45"/>
<circle cx="289.7" cy="1136.4" r="2.45"/>
<circle cx="290.4" cy="1134.7" r="2.45"/>
<circle cx="274.0" cy="1138.2" r="2.45"/>
<circle cx="245.9" cy="1134.6" r="2.45"/>
<circle cx="274.1" cy="1136.2" r="2.45"/>
<circle cx="280.0" cy="1135.2" r="2.45"/>
<circle cx="266.5" cy="1137.3" r="2.45"/>
<circle cx="259.4" cy="1135.0" r="2.45"/>
</g>
<g fill="#a68bd3">
<circle cx="444.4" cy="1075.2" r="2.2"/>
<circle cx="444.4" cy="1084.2" r="2.2"/>
<circle cx="444.4" cy="1098.2" r="2.2"/>
<circle cx="444.4" cy="1103.9" r="2.2"/>
<circle cx="444.4" cy="1110.7" r="2.2"/>
<circle cx="444.4" cy="1119.3" r="2.2"/>
<circle cx="443.0" cy="1125.3" r="2.2"/>
<circle cx="440.5" cy="1127.6" r="2.2"/>
<circle cx="449.8" cy="1124.7" r="2.2"/>
<circle cx="445.6" cy="1127.0" r="2.2"/>
<circle cx="421.0" cy="1129.2" r="2.2"/>
<circle cx="463.1" cy="1130.9" r="2.2"/>
<circle cx="467.4" cy="1131.5" r="2.2"/>
<circle cx="403.1" cy="1132.3" r="2.2"/>
<circle cx="396.7" cy="1133.1" r="2.2"/>
<circle cx="413.8" cy="1133.5" r="2.2"/>
<circle cx="422.2" cy="1132.3" r="2.2"/>
<circle cx="430.4" cy="1133.9" r="2.2"/>
<circle cx="476.1" cy="1132.9" r="2.2"/>
<circle cx="485.3" cy="1133.5" r="2.2"/>
<circle cx="447.9" cy="1131.5" r="2.2"/>
<circle cx="450.8" cy="1132.7" r="2.2"/>
<circle cx="458.6" cy="1134.6" r="2.2"/>
<circle cx="496.6" cy="1135.0" r="2.2"/>
<circle cx="387.6" cy="1138.9" r="2.2"/>
<circle cx="389.7" cy="1135.8" r="2.2"/>
<circle cx="391.0" cy="1140.1" r="2.2"/>
<circle cx="392.3" cy="1137.4" r="2.2"/>
<circle cx="394.6" cy="1134.6" r="2.2"/>
<circle cx="396.2" cy="1138.9" r="2.2"/>
<circle cx="398.2" cy="1135.8" r="2.2"/>
<circle cx="400.2" cy="1134.6" r="2.2"/>
<circle cx="401.2" cy="1135.8" r="2.2"/>
<circle cx="403.6" cy="1137.4" r="2.2"/>
<circle cx="405.5" cy="1140.1" r="2.2"/>
<circle cx="406.6" cy="1134.6" r="2.2"/>
<circle cx="408.5" cy="1137.4" r="2.2"/>
<circle cx="410.4" cy="1134.6" r="2.2"/>
<circle cx="411.8" cy="1135.8" r="2.2"/>
<circle cx="413.3" cy="1140.1" r="2.2"/>
<circle cx="415.5" cy="1137.4" r="2.2"/>
<circle cx="417.9" cy="1134.6" r="2.2"/>
<circle cx="419.6" cy="1134.6" r="2.2"/>
<circle cx="421.4" cy="1138.9" r="2.2"/>
<circle cx="422.7" cy="1135.8" r="2.2"/>
<circle cx="424.1" cy="1134.6" r="2.2"/>
<circle cx="425.5" cy="1138.9" r="2.2"/>
<circle cx="427.4" cy="1135.8" r="2.2"/>
<circle cx="429.0" cy="1138.9" r="2.2"/>
<circle cx="431.0" cy="1140.1" r="2.2"/>
<circle cx="433.1" cy="1135.8" r="2.2"/>
<circle cx="434.7" cy="1138.9" r="2.2"/>
<circle cx="436.3" cy="1137.4" r="2.2"/>
<circle cx="442.4" cy="1134.6" r="2.2"/>
<circle cx="443.5" cy="1140.1" r="2.2"/>
<circle cx="444.9" cy="1135.8" r="2.2"/>
<circle cx="446.8" cy="1140.1" r="2.2"/>
<circle cx="448.6" cy="1134.6" r="2.2"/>
<circle cx="450.3" cy="1135.8" r="2.2"/>
<circle cx="452.2" cy="1140.1" r="2.2"/>
<circle cx="454.7" cy="1138.9" r="2.2"/>
<circle cx="457.5" cy="1135.8" r="2.2"/>
<circle cx="459.1" cy="1140.1" r="2.2"/>
<circle cx="460.8" cy="1140.1" r="2.2"/>
<circle cx="463.4" cy="1138.9" r="2.2"/>
<circle cx="464.6" cy="1134.6" r="2.2"/>
<circle cx="466.4" cy="1137.4" r="2.2"/>
<circle cx="468.4" cy="1137.4" r="2.2"/>
<circle cx="470.4" cy="1138.9" r="2.2"/>
<circle cx="471.3" cy="1134.6" r="2.2"/>
<circle cx="473.4" cy="1140.1" r="2.2"/>
<circle cx="474.9" cy="1135.8" r="2.2"/>
<circle cx="476.4" cy="1138.9" r="2.2"/>
<circle cx="478.2" cy="1135.8" r="2.2"/>
<circle cx="480.5" cy="1135.8" r="2.2"/>
<circle cx="481.7" cy="1138.9" r="2.2"/>
<circle cx="485.9" cy="1140.1" r="2.2"/>
<circle cx="489.7" cy="1138.9" r="2.2"/>
<circle cx="493.2" cy="1134.6" r="2.2"/>
<circle cx="493.9" cy="1134.6" r="2.2"/>
<circle cx="496.0" cy="1134.6" r="2.2"/>
<circle cx="498.0" cy="1134.6" r="2.2"/>
<circle cx="399.5" cy="1140.0" r="2.2"/>
<circle cx="405.0" cy="1140.3" r="2.2"/>
<circle cx="410.6" cy="1140.2" r="2.2"/>
<circle cx="413.0" cy="1139.2" r="2.2"/>
<circle cx="415.7" cy="1138.5" r="2.2"/>
<circle cx="419.1" cy="1140.2" r="2.2"/>
<circle cx="420.8" cy="1139.9" r="2.2"/>
<circle cx="423.7" cy="1140.1" r="2.2"/>
<circle cx="426.9" cy="1138.4" r="2.2"/>
<circle cx="429.2" cy="1138.8" r="2.2"/>
<circle cx="431.9" cy="1139.7" r="2.2"/>
<circle cx="436.6" cy="1139.0" r="2.2"/>
<circle cx="439.6" cy="1138.7" r="2.2"/>
<circle cx="445.5" cy="1140.3" r="2.2"/>
<circle cx="448.5" cy="1138.8" r="2.2"/>
<circle cx="451.5" cy="1140.3" r="2.2"/>
<circle cx="456.6" cy="1139.0" r="2.2"/>
<circle cx="459.2" cy="1140.1" r="2.2"/>
<circle cx="465.3" cy="1138.9" r="2.2"/>
<circle cx="467.3" cy="1138.9" r="2.2"/>
<circle cx="470.0" cy="1139.7" r="2.2"/>
<circle cx="472.5" cy="1140.1" r="2.2"/>
<circle cx="477.6" cy="1138.4" r="2.2"/>
<circle cx="484.1" cy="1139.6" r="2.2"/>
<circle cx="486.9" cy="1138.4" r="2.2"/>
<circle cx="489.1" cy="1138.4" r="2.2"/>
<circle cx="494.1" cy="1138.4" r="2.2"/>
<circle cx="497.3" cy="1139.7" r="2.2"/>
</g>
<g fill="#e896ea">
<circle cx="619.9" cy="1089.5" r="2.2"/>
<circle cx="619.9" cy="1101.9" r="2.2"/>
<circle cx="622.4" cy="1100.4" r="2.2"/>
<circle cx="619.9" cy="1123.7" r="2.2"/>
<circle cx="605.6" cy="1130.6" r="2.2"/>
<circle cx="608.6" cy="1130.7" r="2.2"/>
<circle cx="611.5" cy="1130.7" r="2.2"/>
<circle cx="614.4" cy="1130.6" r="2.2"/>
<circle cx="617.3" cy="1130.2" r="2.2"/>
<circle cx="622.6" cy="1130.0" r="2.2"/>
<circle cx="625.5" cy="1131.5" r="2.2"/>
<circle cx="628.4" cy="1131.9" r="2.2"/>
<circle cx="631.3" cy="1131.5" r="2.2"/>
<circle cx="634.3" cy="1131.1" r="2.2"/>
<circle cx="636.8" cy="1130.2" r="2.2"/>
<circle cx="602.7" cy="1134.1" r="2.2"/>
<circle cx="618.3" cy="1133.5" r="2.2"/>
<circle cx="639.3" cy="1134.8" r="2.2"/>
<circle cx="563.4" cy="1134.8" r="2.2"/>
<circle cx="582.9" cy="1134.4" r="2.2"/>
<circle cx="673.2" cy="1135.4" r="2.2"/>
<circle cx="615.8" cy="1133.9" r="2.2"/>
<circle cx="620.8" cy="1134.3" r="2.2"/>
<circle cx="571.3" cy="1138.3" r="2.2"/>
<circle cx="577.2" cy="1138.3" r="2.2"/>
<circle cx="579.8" cy="1138.3" r="2.2"/>
<circle cx="582.4" cy="1138.3" r="2.2"/>
<circle cx="584.7" cy="1140.7" r="2.2"/>
<circle cx="586.3" cy="1137.0" r="2.2"/>
<circle cx="588.6" cy="1139.7" r="2.2"/>
<circle cx="590.8" cy="1138.3" r="2.2"/>
<circle cx="593.2" cy="1137.0" r="2.2"/>
<circle cx="595.4" cy="1137.0" r="2.2"/>
<circle cx="599.6" cy="1139.7" r="2.2"/>
<circle cx="601.6" cy="1137.0" r="2.2"/>
<circle cx="603.0" cy="1140.7" r="2.2"/>
<circle cx="605.5" cy="1139.7" r="2.2"/>
<circle cx="607.2" cy="1137.0" r="2.2"/>
<circle cx="609.4" cy="1139.7" r="2.2"/>
<circle cx="616.9" cy="1140.7" r="2.2"/>
<circle cx="621.2" cy="1137.0" r="2.2"/>
<circle cx="625.0" cy="1138.3" r="2.2"/>
<circle cx="627.5" cy="1139.7" r="2.2"/>
<circle cx="629.1" cy="1138.3" r="2.2"/>
<circle cx="630.9" cy="1139.7" r="2.2"/>
<circle cx="633.1" cy="1137.0" r="2.2"/>
<circle cx="635.8" cy="1137.0" r="2.2"/>
<circle cx="637.2" cy="1140.7" r="2.2"/>
<circle cx="640.5" cy="1137.0" r="2.2"/>
<circle cx="642.3" cy="1137.0" r="2.2"/>
<circle cx="646.8" cy="1140.7" r="2.2"/>
<circle cx="648.4" cy="1138.3" r="2.2"/>
<circle cx="651.1" cy="1140.7" r="2.2"/>
<circle cx="652.3" cy="1140.7" r="2.2"/>
<circle cx="659.5" cy="1137.0" r="2.2"/>
<circle cx="660.9" cy="1137.0" r="2.2"/>
<circle cx="665.4" cy="1140.7" r="2.2"/>
<circle cx="668.0" cy="1137.0" r="2.2"/>
</g>
<circle cx="619.5" cy="759.2" r="2.2" fill="#e896ea"/>
<rect x="211.00" y="1109.90" width="116.40" height="4.20" fill="#000" />
<rect x="386.40" y="1134.30" width="116.20" height="4.40" fill="#000" />
<rect x="561.40" y="1135.40" width="116.60" height="4.40" fill="#000" />
<rect x="150.40" y="747.80" width="4.20" height="397.60" fill="#000" />
<rect x="135.40" y="1141.60" width="603.40" height="4.00" fill="#000" />
<text transform="translate(132.20 1154.60) scale(1 1.030)" font-size="32" font-weight="bold" text-anchor="end" >0.0</text>
<rect x="135.40" y="1043.15" width="16.60" height="3.20" fill="#000" />
<text transform="translate(135.90 1055.35) scale(1 1.050)" font-size="29.5" font-weight="bold" text-anchor="end" >0.25</text>
<rect x="135.40" y="944.70" width="16.60" height="3.20" fill="#000" />
<text transform="translate(132.20 957.70) scale(1 1.030)" font-size="32" font-weight="bold" text-anchor="end" >0.5</text>
<rect x="135.40" y="846.25" width="16.60" height="3.20" fill="#000" />
<text transform="translate(135.90 858.45) scale(1 1.050)" font-size="29.5" font-weight="bold" text-anchor="end" >0.75</text>
<rect x="135.40" y="747.80" width="16.60" height="3.20" fill="#000" />
<text transform="translate(132.20 760.80) scale(1 1.030)" font-size="32" font-weight="bold" text-anchor="end" >1.0</text>
<rect x="267.10" y="1145.00" width="4.00" height="10.40" fill="#000" />
<text x="269.45" y="1187.40" font-size="31.2" font-weight="bold" text-anchor="middle" >Shared</text>
<rect x="441.90" y="1145.00" width="4.00" height="10.40" fill="#000" />
<text x="445.00" y="1187.40" font-size="31.2" font-weight="bold" text-anchor="middle" >PP</text>
<rect x="617.50" y="1145.00" width="4.00" height="10.40" fill="#000" />
<text x="620.30" y="1187.40" font-size="31.2" font-weight="bold" text-anchor="middle" >MP</text>
<text transform="translate(50.60 946.70) rotate(-90) scale(1 1.145)" font-size="31.9" font-weight="bold" text-anchor="middle">Heteroplasmy level</text>
<rect x="232.60" y="674.00" width="414.60" height="3.80" fill="#000" />
<rect x="232.60" y="664.40" width="3.80" height="23.00" fill="#000" />
<rect x="643.40" y="664.40" width="3.80" height="23.00" fill="#000" />
<rect x="238.90" y="723.90" width="408.30" height="3.80" fill="#000" />
<rect x="238.90" y="714.30" width="3.80" height="23.00" fill="#000" />
<rect x="643.40" y="714.30" width="3.80" height="23.00" fill="#000" />
<rect x="440.00" y="714.30" width="3.80" height="23.00" fill="#000" />
<text transform="translate(370.00 656.50) scale(1 1.030)" font-size="32"><tspan font-style="italic" font-weight="bold">P</tspan><tspan font-family='"Liberation Sans","Noto Sans CJK SC",sans-serif' font-weight="normal" dx="1" stroke="#000" stroke-width="0.5">＜</tspan><tspan font-weight="normal" dx="3" stroke="#000" stroke-width="0.55">0.001</tspan></text>
<text transform="translate(271.80 706.90) scale(1 1.030)" font-size="32"><tspan font-style="italic" font-weight="bold">P</tspan><tspan font-family='"Liberation Sans","Noto Sans CJK SC",sans-serif' font-weight="normal" dx="1" stroke="#000" stroke-width="0.5">＜</tspan><tspan font-weight="normal" dx="3" stroke="#000" stroke-width="0.55">0.001</tspan></text>
<text transform="translate(481.00 706.90) scale(1 1.020)" font-size="33"><tspan font-style="italic" font-weight="bold">P</tspan><tspan font-weight="bold">=0.454</tspan></text>
<text transform="translate(869.40 700.80) scale(1.010 1.050)" font-size="62" font-weight="bold">c</text>
<rect x="1104.60" y="1120.90" width="96.00" height="21.40" fill="#7e9fd6" />
<rect x="1104.60" y="930.98" width="96.00" height="190.22" fill="#1b67a8" />
<rect x="1104.60" y="923.95" width="96.00" height="7.33" fill="#ffdfc0" />
<rect x="1104.60" y="916.91" width="96.00" height="7.33" fill="#f2b57c" />
<rect x="1104.60" y="800.87" width="96.00" height="116.34" fill="#b9de84" />
<rect x="1104.60" y="769.24" width="96.00" height="31.93" fill="#c0e0c0" />
<rect x="1104.60" y="765.74" width="96.00" height="3.80" fill="#2e8bb0" />
<rect x="1104.60" y="745.30" width="96.00" height="20.74" fill="#87a9bd" />
<rect x="1219.40" y="1117.16" width="96.00" height="25.14" fill="#7e9fd6" />
<rect x="1219.40" y="992.98" width="96.00" height="124.49" fill="#1b67a8" />
<rect x="1219.40" y="973.11" width="96.00" height="20.17" fill="#f2b57c" />
<rect x="1219.40" y="819.11" width="96.00" height="154.29" fill="#b9de84" />
<rect x="1219.40" y="779.37" width="96.00" height="40.04" fill="#c0e0c0" />
<rect x="1219.40" y="769.44" width="96.00" height="10.24" fill="#2e8bb0" />
<rect x="1219.40" y="745.30" width="96.00" height="24.44" fill="#87a9bd" />
<rect x="1334.20" y="1115.49" width="96.00" height="26.81" fill="#7e9fd6" />
<rect x="1334.20" y="996.27" width="96.00" height="119.52" fill="#1b67a8" />
<rect x="1334.20" y="989.64" width="96.00" height="6.94" fill="#ffdfc0" />
<rect x="1334.20" y="969.77" width="96.00" height="20.17" fill="#f2b57c" />
<rect x="1334.20" y="810.81" width="96.00" height="159.26" fill="#b9de84" />
<rect x="1334.20" y="757.83" width="96.00" height="53.27" fill="#c0e0c0" />
<rect x="1334.20" y="751.20" width="96.00" height="6.94" fill="#2e8bb0" />
<rect x="1334.20" y="745.30" width="96.00" height="6.20" fill="#f5137f" />
<g font-size="21.5" text-anchor="middle">
<text transform="translate(1150.8 791.6) scale(1 1.04)">7.96%</text>
<text transform="translate(1152.0 854.7) scale(1 1.04)">29.20%</text>
<text transform="translate(1273.0 808.6) scale(1 1.04)">10.00%</text>
<text transform="translate(1271.6 895.2) scale(1 1.04)">38.75%</text>
<text transform="translate(1387.8 792.1) scale(1 1.04)">13.33%</text>
<text transform="translate(1383.3 895.2) scale(1 1.04)">40.00%</text>
<text transform="translate(1152.0 1057.1) scale(1 1.04)">47.79%</text>
<text transform="translate(1268.2 1057.8) scale(1 1.04)">31.25%</text>
<text transform="translate(1383.7 1058.1) scale(1 1.04)">30.00%</text>
<text transform="translate(1150.9 1138.5) scale(1 1.04)">5.31%</text>
<text transform="translate(1266.5 1135.8) scale(1 1.04)">6.25%</text>
<text transform="translate(1384.2 1136.1) scale(1 1.04)">6.67%</text>
</g>
<rect x="1054.90" y="742.80" width="3.80" height="401.20" fill="#000" />
<rect x="1040.30" y="1140.00" width="439.40" height="4.00" fill="#000" />
<text transform="translate(1035.80 1153.40) scale(1 1.060)" font-size="29.7" font-weight="bold" text-anchor="end" >0</text>
<rect x="1040.30" y="941.60" width="15.70" height="3.40" fill="#000" />
<text transform="translate(1035.80 954.70) scale(1 1.060)" font-size="29.7" font-weight="bold" text-anchor="end" >50</text>
<rect x="1040.30" y="742.90" width="15.70" height="3.40" fill="#000" />
<text transform="translate(1035.80 756.00) scale(1 1.060)" font-size="29.7" font-weight="bold" text-anchor="end" >100</text>
<text transform="translate(1152.80 1190.60) scale(1 1.050)" font-size="30" font-weight="bold" text-anchor="middle" >Shared</text>
<text transform="translate(1267.50 1190.60) scale(1 1.050)" font-size="30" font-weight="bold" text-anchor="middle" >PP</text>
<text transform="translate(1382.10 1190.60) scale(1 1.050)" font-size="30" font-weight="bold" text-anchor="middle" >MP</text>
<text transform="translate(972.10 894.00) rotate(-90) scale(1 1.050)" font-size="33.7" font-weight="bold" text-anchor="middle">Proportion(%)</text>
<rect x="1132.40" y="676.30" width="272.50" height="2.00" fill="#000" />
<rect x="1132.40" y="671.55" width="2.00" height="11.50" fill="#000" />
<rect x="1402.90" y="671.55" width="2.00" height="11.50" fill="#000" />
<rect x="1132.40" y="714.90" width="135.40" height="2.00" fill="#000" />
<rect x="1132.40" y="709.90" width="2.00" height="12.00" fill="#000" />
<rect x="1265.80" y="709.90" width="2.00" height="12.00" fill="#000" />
<rect x="1275.50" y="714.90" width="129.40" height="2.00" fill="#000" />
<rect x="1275.50" y="709.90" width="2.00" height="12.00" fill="#000" />
<rect x="1402.90" y="709.90" width="2.00" height="12.00" fill="#000" />
<text transform="translate(1272.50 668.10) scale(1 1.030)" font-size="32.3" text-anchor="middle"><tspan font-style="italic" font-weight="bold">P</tspan><tspan font-weight="normal">=0.042</tspan></text>
<text transform="translate(1198.80 709.90) scale(1 1.030)" font-size="32.3" text-anchor="middle"><tspan font-style="italic" font-weight="bold">P</tspan><tspan font-weight="normal">=0.184</tspan></text>
<text transform="translate(1339.50 709.90) scale(1 1.030)" font-size="32.3" text-anchor="middle"><tspan font-style="italic" font-weight="bold">P</tspan><tspan font-weight="normal">=0.314</tspan></text>
<text transform="translate(1497.60 819.30) scale(1 1.030)" font-size="21.5" text-anchor="middle" stroke="#000" stroke-width="0.3">L</text>
<text transform="translate(1546.80 819.30) scale(1 1.030)" font-size="21.5" text-anchor="middle" stroke="#000" stroke-width="0.3">H</text>
<rect x="1473.90" y="827.80" width="42.40" height="14.20" fill="#ff8080" />
<rect x="1525.60" y="827.80" width="42.40" height="14.20" fill="#f5137f" />
<text transform="translate(1582.20 842.90) scale(1 1.062)" font-size="21.25" stroke="#000" stroke-width="0.3">T &gt; A</text>
<rect x="1473.90" y="851.80" width="42.40" height="14.20" fill="#2e8bb0" />
<rect x="1525.60" y="851.40" width="42.40" height="14.20" fill="#87a9bd" />
<text transform="translate(1582.20 866.10) scale(1 1.099)" font-size="20.54" stroke="#000" stroke-width="0.3">T &gt; G</text>
<rect x="1472.90" y="875.40" width="42.40" height="14.20" fill="#b9de84" />
<rect x="1525.60" y="875.40" width="42.40" height="14.20" fill="#c0e0c0" />
<text transform="translate(1584.00 891.00) scale(1 1.123)" font-size="20.1" stroke="#000" stroke-width="0.3">T &gt; C</text>
<rect x="1472.90" y="899.60" width="42.40" height="14.20" fill="#ffdfc0" />
<rect x="1526.80" y="899.00" width="42.40" height="14.20" fill="#f2b57c" />
<text transform="translate(1582.70 915.00) scale(1 1.120)" font-size="20.16" stroke="#000" stroke-width="0.3">C &gt; G</text>
<rect x="1473.90" y="922.40" width="42.40" height="14.20" fill="#e896ec" />
<rect x="1526.80" y="921.60" width="42.40" height="14.20" fill="#e05edd" />
<text transform="translate(1582.70 934.70) scale(1 1.075)" font-size="21.0" stroke="#000" stroke-width="0.3">C &gt; A</text>
<rect x="1474.50" y="945.10" width="42.40" height="14.20" fill="#7e9fd6" />
<rect x="1526.80" y="945.10" width="42.40" height="14.20" fill="#1b67a8" />
<text transform="translate(1584.50 957.50) scale(1 1.111)" font-size="20.33" stroke="#000" stroke-width="0.3">C &gt; T</text>
<text transform="translate(3.00 1313.70) scale(1.050 1.030)" font-size="62" font-weight="bold">d</text>
<rect x="159.20" y="1414.70" width="87.70" height="322.12" fill="#e896ea" />
<rect x="159.20" y="1736.52" width="87.70" height="48.98" fill="#7da0d4" />
<rect x="290.70" y="1414.70" width="87.70" height="357.19" fill="#e896ea" />
<rect x="290.70" y="1771.60" width="87.70" height="13.91" fill="#7da0d4" />
<rect x="422.30" y="1414.70" width="87.70" height="327.12" fill="#e896ea" />
<rect x="422.30" y="1741.52" width="87.70" height="43.98" fill="#7da0d4" />
<g font-size="20" text-anchor="middle">
<text transform="translate(208.9 1595.6) scale(1 1.06)">86.79%</text>
<text transform="translate(333.6 1595.6) scale(1 1.06)">96.25%</text>
<text transform="translate(464.5 1595.6) scale(1 1.06)">88.14%</text>
<text transform="translate(202.1 1763.0) scale(1 1.06)">13.21%</text>
<text transform="translate(330.5 1783.6) scale(1 1.06)">3.75%</text>
<text transform="translate(468.0 1777.8) scale(1 1.06)">11.86%</text>
</g>
<rect x="113.10" y="1412.80" width="3.80" height="374.60" fill="#000" />
<rect x="99.40" y="1783.40" width="456.10" height="4.00" fill="#000" />
<text transform="translate(94.80 1795.70) scale(1 1.070)" font-size="28" font-weight="bold" text-anchor="end" >0</text>
<rect x="99.40" y="1598.25" width="14.60" height="3.40" fill="#000" />
<text transform="translate(94.80 1610.25) scale(1 1.070)" font-size="28" font-weight="bold" text-anchor="end" >50</text>
<rect x="99.40" y="1412.80" width="14.60" height="3.40" fill="#000" />
<text transform="translate(94.80 1424.80) scale(1 1.070)" font-size="28" font-weight="bold" text-anchor="end" >100</text>
<text transform="translate(202.70 1820.40) scale(1 1.040)" font-size="28.4" font-weight="bold" text-anchor="middle" >Shared</text>
<text transform="translate(334.00 1820.40) scale(1 1.040)" font-size="28.4" font-weight="bold" text-anchor="middle" >PP</text>
<text transform="translate(466.00 1820.40) scale(1 1.040)" font-size="28.4" font-weight="bold" text-anchor="middle" >MP</text>
<text transform="translate(29.70 1599.70) rotate(-90) scale(1 1.060)" font-size="31.4" font-weight="bold" text-anchor="middle">Proportion(%)</text>
<rect x="191.30" y="1358.30" width="279.90" height="4.00" fill="#000" />
<rect x="191.30" y="1349.15" width="4.00" height="22.30" fill="#000" />
<rect x="467.20" y="1349.15" width="4.00" height="22.30" fill="#000" />
<rect x="190.90" y="1394.90" width="142.30" height="4.00" fill="#000" />
<rect x="190.90" y="1385.90" width="4.00" height="22.00" fill="#000" />
<rect x="329.20" y="1385.90" width="4.00" height="22.00" fill="#000" />
<rect x="336.60" y="1394.90" width="137.60" height="4.00" fill="#000" />
<rect x="336.60" y="1385.90" width="4.00" height="22.00" fill="#000" />
<rect x="470.20" y="1385.90" width="4.00" height="22.00" fill="#000" />
<text transform="translate(327.70 1357.10) scale(1 1.040)" font-size="30.2" text-anchor="middle"><tspan font-style="italic" font-weight="bold">P</tspan><tspan font-weight="normal">=0.804</tspan></text>
<text transform="translate(265.00 1392.80) scale(1 1.040)" font-size="30.2" text-anchor="middle"><tspan font-style="italic" font-weight="bold">P</tspan><tspan font-weight="normal">=0.027</tspan></text>
<text transform="translate(405.60 1392.80) scale(1 1.040)" font-size="30.2" text-anchor="middle"><tspan font-style="italic" font-weight="bold">P</tspan><tspan font-weight="normal">=0.067</tspan></text>
<rect x="534.00" y="1453.20" width="39.20" height="19.80" fill="#e896ea" />
<text transform="translate(596.20 1473.20) scale(1 1.050)" font-size="30" >Coding</text>
<rect x="534.00" y="1515.50" width="39.20" height="19.80" fill="#7da0d4" />
<text transform="translate(596.20 1534.40) scale(1 1.050)" font-size="30" >D-loop</text>
<text transform="translate(709.40 1314.00) scale(1.020 1.040)" font-size="62" font-weight="bold">e</text>
<rect x="887.30" y="1529.80" width="70.20" height="254.80" fill="#28508f" />
<rect x="892.90" y="1535.40" width="59.00" height="249.20" fill="#7e9fd6" />
<rect x="992.40" y="1700.70" width="70.20" height="83.90" fill="#28508f" />
<rect x="998.00" y="1706.30" width="59.00" height="78.30" fill="#7e9fd6" />
<rect x="1097.00" y="1637.70" width="70.20" height="146.90" fill="#28508f" />
<rect x="1102.60" y="1643.30" width="59.00" height="141.30" fill="#7e9fd6" />
<rect x="850.40" y="1395.40" width="3.80" height="391.20" fill="#000" />
<rect x="836.10" y="1782.80" width="367.80" height="3.80" fill="#000" />
<text transform="translate(831.30 1796.00) scale(1 1.040)" font-size="29.2" font-weight="bold" text-anchor="end" >0.000</text>
<rect x="836.10" y="1589.50" width="15.90" height="3.60" fill="#000" />
<text transform="translate(831.30 1603.10) scale(1 1.040)" font-size="29.2" font-weight="bold" text-anchor="end" >0.035</text>
<rect x="836.10" y="1395.40" width="15.90" height="3.60" fill="#000" />
<text transform="translate(831.30 1409.00) scale(1 1.040)" font-size="29.2" font-weight="bold" text-anchor="end" >0.070</text>
<rect x="919.90" y="1785.00" width="3.60" height="16.30" fill="#000" />
<text transform="translate(921.30 1835.60) scale(1 1.030)" font-size="32.2" font-weight="bold" text-anchor="middle" >Shared</text>
<rect x="1025.30" y="1785.00" width="3.60" height="16.30" fill="#000" />
<text transform="translate(1026.70 1835.60) scale(1 1.030)" font-size="32.2" font-weight="bold" text-anchor="middle" >PP</text>
<rect x="1130.40" y="1785.00" width="3.60" height="16.30" fill="#000" />
<text transform="translate(1131.80 1835.60) scale(1 1.030)" font-size="32.2" font-weight="bold" text-anchor="middle" >MP</text>
<text transform="translate(740.00 1591.60) rotate(-90) scale(1 1.070)" font-size="31.45" font-weight="bold" text-anchor="middle">Mutation Density</text>
<text transform="translate(1029.00 1284.90) scale(1 1.040)" font-size="31.3" font-weight="bold" text-anchor="middle" >D-loop</text>
<rect x="918.60" y="1353.60" width="217.50" height="4.20" fill="#000" />
<rect x="918.60" y="1344.20" width="4.20" height="23.00" fill="#000" />
<rect x="1131.90" y="1344.20" width="4.20" height="23.00" fill="#000" />
<rect x="916.70" y="1425.90" width="113.50" height="4.20" fill="#000" />
<rect x="916.70" y="1416.50" width="4.20" height="23.00" fill="#000" />
<rect x="1026.00" y="1416.50" width="4.20" height="23.00" fill="#000" />
<rect x="1033.30" y="1425.90" width="125.70" height="4.20" fill="#000" />
<rect x="1033.30" y="1416.50" width="4.20" height="23.00" fill="#000" />
<rect x="1154.80" y="1416.50" width="4.20" height="23.00" fill="#000" />
<text transform="translate(1027.20 1337.00) scale(1 1.050)" font-size="31.6" text-anchor="middle"><tspan font-style="italic" font-weight="bold">P</tspan><tspan font-weight="bold">=0.190</tspan></text>
<text transform="translate(973.00 1409.00) scale(1 1.050)" font-size="31.6" text-anchor="middle"><tspan font-style="italic" font-weight="bold">P</tspan><tspan font-weight="bold">=0.014</tspan></text>
<text transform="translate(1096.00 1409.00) scale(1 1.050)" font-size="31.6" text-anchor="middle"><tspan font-style="italic" font-weight="bold">P</tspan><tspan font-weight="bold">=0.199</tspan></text>
<rect x="1421.70" y="1671.00" width="71.20" height="113.60" fill="#4e2a8e" />
<rect x="1427.30" y="1676.60" width="60.00" height="108.00" fill="#a68cd5" />
<rect x="1529.20" y="1630.80" width="71.20" height="153.80" fill="#4e2a8e" />
<rect x="1534.80" y="1636.40" width="60.00" height="148.20" fill="#a68cd5" />
<rect x="1636.60" y="1697.00" width="71.20" height="87.60" fill="#4e2a8e" />
<rect x="1642.20" y="1702.60" width="60.00" height="82.00" fill="#a68cd5" />
<rect x="1384.10" y="1389.30" width="4.00" height="396.70" fill="#000" />
<rect x="1369.60" y="1782.90" width="376.40" height="3.80" fill="#000" />
<text transform="translate(1364.00 1795.60) scale(1 1.040)" font-size="29.7" font-weight="bold" text-anchor="end" >0.000</text>
<rect x="1369.60" y="1585.80" width="16.40" height="3.80" fill="#000" />
<text transform="translate(1364.00 1599.10) scale(1 1.040)" font-size="29.7" font-weight="bold" text-anchor="end" >0.035</text>
<rect x="1369.60" y="1389.30" width="16.40" height="3.80" fill="#000" />
<text transform="translate(1364.00 1402.60) scale(1 1.040)" font-size="29.7" font-weight="bold" text-anchor="end" >0.070</text>
<rect x="1455.40" y="1785.00" width="3.40" height="16.50" fill="#000" />
<text transform="translate(1457.10 1835.70) scale(1 1.030)" font-size="32.7" font-weight="bold" text-anchor="middle" >Shared</text>
<rect x="1562.20" y="1785.00" width="3.40" height="16.50" fill="#000" />
<text transform="translate(1563.90 1835.70) scale(1 1.030)" font-size="32.7" font-weight="bold" text-anchor="middle" >PP</text>
<rect x="1670.10" y="1785.00" width="3.40" height="16.50" fill="#000" />
<text transform="translate(1671.80 1835.70) scale(1 1.030)" font-size="32.7" font-weight="bold" text-anchor="middle" >MP</text>
<text transform="translate(1271.10 1587.20) rotate(-90) scale(1 1.080)" font-size="32.1" font-weight="bold" text-anchor="middle">Mutation Density</text>
<text transform="translate(1576.60 1304.80) scale(1 1.040)" font-size="31.7" font-weight="bold" text-anchor="middle" >Coding</text>
<rect x="1448.90" y="1365.70" width="247.80" height="4.20" fill="#000" />
<rect x="1448.90" y="1355.80" width="4.20" height="24.00" fill="#000" />
<rect x="1692.50" y="1355.80" width="4.20" height="24.00" fill="#000" />
<rect x="1448.90" y="1440.60" width="123.30" height="4.20" fill="#000" />
<rect x="1448.90" y="1430.70" width="4.20" height="24.00" fill="#000" />
<rect x="1568.00" y="1430.70" width="4.20" height="24.00" fill="#000" />
<rect x="1577.90" y="1440.60" width="118.80" height="4.20" fill="#000" />
<rect x="1577.90" y="1430.70" width="4.20" height="24.00" fill="#000" />
<rect x="1692.50" y="1430.70" width="4.20" height="24.00" fill="#000" />
<text transform="translate(1574.70 1353.60) scale(1 1.070)" font-size="32.3" text-anchor="middle"><tspan font-style="italic" font-weight="bold">P</tspan><tspan font-weight="bold">=0.043</tspan></text>
<text transform="translate(1509.00 1424.00) scale(1 1.070)" font-size="32.3" text-anchor="middle"><tspan font-style="italic" font-weight="bold">P</tspan><tspan font-weight="bold">=0.775</tspan></text>
<text transform="translate(1632.20 1424.00) scale(1 1.070)" font-size="32.3" text-anchor="middle"><tspan font-style="italic" font-weight="bold">P</tspan><tspan font-weight="bold">=0.196</tspan></text>
</svg>
</body></html>
